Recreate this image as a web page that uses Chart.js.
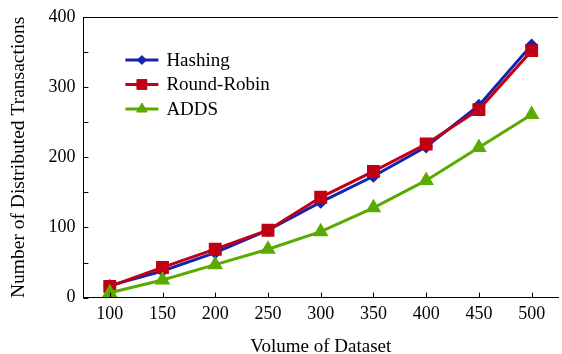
<!DOCTYPE html>
<html>
<head>
<meta charset="utf-8">
<script src="https://cdn.jsdelivr.net/npm/chart.js@4.4.1/dist/chart.umd.min.js"></script>
<style>
  html, body { margin: 0; padding: 0; background: #fff; overflow: hidden; height: 354px; }
  #wrap { width: 568px; height: 358px; }
</style>
</head>
<body>
<div id="wrap"><canvas id="chart"></canvas></div>
<script>
// data
const volumes = [100, 150, 200, 250, 300, 350, 400, 450, 500];
const hashing = [17, 38, 64, 96, 136, 173, 215, 274, 360];
const roundRobin = [16, 43, 69, 96, 143, 180, 219, 268, 352];
const adds = [7, 25, 47, 69, 94, 128, 167, 214, 261];
const yTicks = [0, 50, 100, 150, 200, 250, 300, 350, 400];

const FONT = "'Liberation Serif', 'DejaVu Serif', serif";

const toPoints = (arr) => arr.map((v, i) => ({ x: volumes[i], y: v }));

// inward tick marks + top frame line
const frameTicks = {
    id: 'frameTicks',
    afterDraw(chart) {
        const { ctx, chartArea: a, scales } = chart;
        ctx.save();
        ctx.strokeStyle = '#000';
        ctx.lineWidth = 1;
        ctx.beginPath();
        ctx.moveTo(a.left, a.top + 0.5);
        ctx.lineTo(a.right, a.top + 0.5);
        volumes.forEach(v => {
            const x = Math.round(scales.x.getPixelForValue(v)) + 0.5;
            ctx.moveTo(x, a.bottom);
            ctx.lineTo(x, a.bottom - 5);
        });
        yTicks.forEach(v => {
            const y = Math.round(scales.y.getPixelForValue(v)) + 0.5;
            ctx.moveTo(a.left, y);
            ctx.lineTo(a.left + 5, y);
        });
        ctx.stroke();
        ctx.restore();
    }
};

// legend drawn inside the plot, top-left
const innerLegend = {
    id: 'innerLegend',
    afterDraw(chart) {
        const { ctx, chartArea: a } = chart;
        ctx.save();
        ctx.font = '19px ' + FONT;
        ctx.textBaseline = 'middle';
        chart.data.datasets.forEach((ds, i) => {
            const y = a.top + 43 + i * 24.5;
            const x0 = a.left + 42;
            ctx.strokeStyle = ds.borderColor;
            ctx.lineWidth = 3;
            ctx.beginPath();
            ctx.moveTo(x0, y);
            ctx.lineTo(x0 + 33, y);
            ctx.stroke();
            ctx.fillStyle = ds.pointBackgroundColor;
            ctx.strokeStyle = ds.borderColor;
            ctx.lineWidth = 1;
            Chart.helpers.drawPoint(ctx, {
                pointStyle: ds.pointStyle,
                radius: ds.pointRadius,
                rotation: 0,
                borderWidth: 1
            }, x0 + 16.5, y);
            ctx.fillStyle = '#000';
            ctx.fillText(ds.label, x0 + 41, y + 1);
        });
        ctx.restore();
    }
};

new Chart(document.getElementById('chart'), {
    type: 'line',
    data: {
        datasets: [
            {
                label: 'Hashing',
                data: toPoints(hashing),
                borderColor: '#1424b0',
                backgroundColor: '#1424b0',
                pointBackgroundColor: '#1424b0',
                pointStyle: 'rectRot',
                pointRadius: 4.5,
                borderWidth: 3,
                order: 2
            },
            {
                label: 'Round-Robin',
                data: toPoints(roundRobin),
                borderColor: '#c00014',
                backgroundColor: '#c00014',
                pointBackgroundColor: '#c00014',
                pointStyle: 'rect',
                pointRadius: 7,
                borderWidth: 3,
                order: 1
            },
            {
                label: 'ADDS',
                data: toPoints(adds),
                borderColor: '#5aaa00',
                backgroundColor: '#5aaa00',
                pointBackgroundColor: '#5aaa00',
                pointStyle: 'triangle',
                pointRadius: 6,
                borderWidth: 3,
                order: 0
            }
        ]
    },
    options: {
        responsive: true,
        maintainAspectRatio: false,
        animation: false,
        layout: { padding: { top: -3, right: 4, left: 7, bottom: 0 } },
        plugins: {
            legend: { display: false },
            tooltip: { enabled: false }
        },
        scales: {
            x: {
                type: 'linear',
                min: 75,
                max: 525,
                afterBuildTicks: (axis) => { axis.ticks = volumes.map(v => ({ value: v })); },
                grid: { display: false, drawTicks: false },
                border: { color: '#000', width: 1 },
                ticks: {
                    color: '#000',
                    padding: 6,
                    maxRotation: 0,
                    font: { family: FONT, size: 18 }
                },
                title: {
                    display: true,
                    text: 'Volume of Dataset',
                    color: '#000',
                    padding: { top: 4, bottom: 0 },
                    font: { family: FONT, size: 19 }
                }
            },
            y: {
                min: 0,
                max: 400,
                afterBuildTicks: (axis) => { axis.ticks = yTicks.filter(v => v % 100 === 0).map(v => ({ value: v })); },
                grid: { display: false, drawTicks: false },
                border: { color: '#000', width: 1 },
                ticks: {
                    color: '#000',
                    padding: 8,
                    font: { family: FONT, size: 18, lineHeight: 1.0 }
                },
                title: {
                    display: true,
                    text: 'Number of Distributed Transactions',
                    color: '#000',
                    padding: { top: 0, bottom: 10 },
                    font: { family: FONT, size: 19.5 }
                }
            }
        }
    },
    plugins: [frameTicks, innerLegend]
});
</script>
</body>
</html>
